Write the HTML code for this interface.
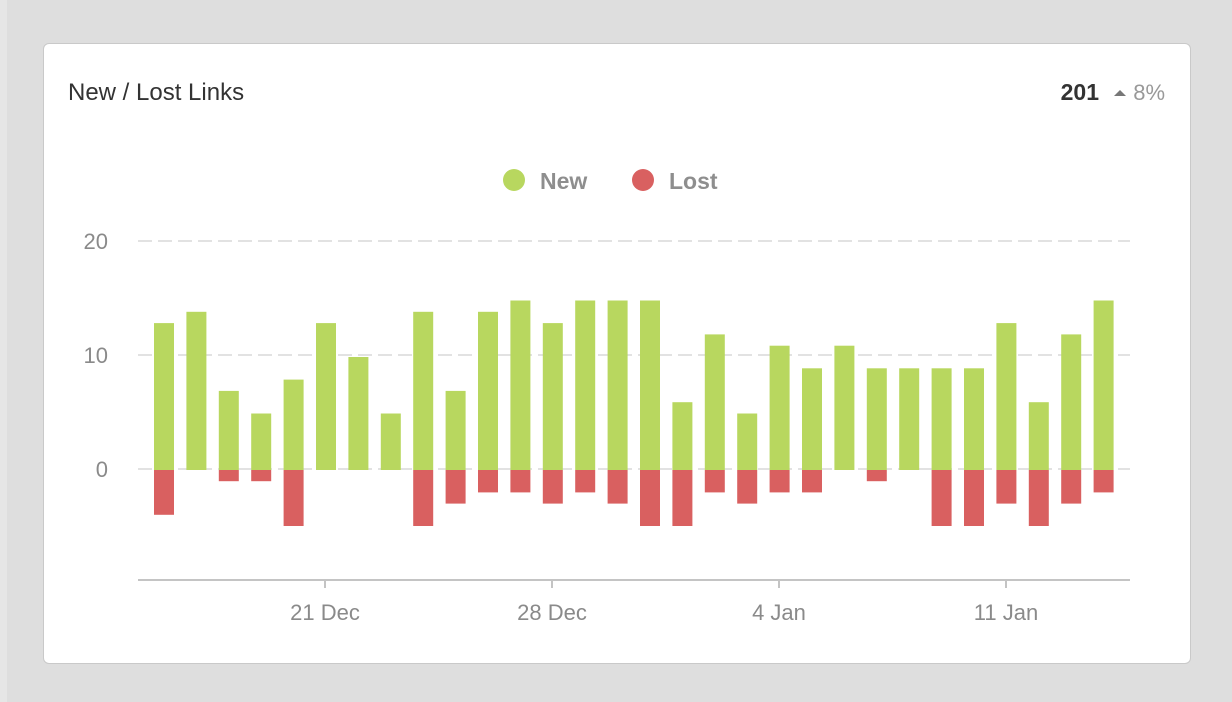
<!DOCTYPE html>
<html><head><meta charset="utf-8"><style>
html,body{margin:0;padding:0;width:1232px;height:702px;background:#dedede;overflow:hidden;font-family:"Liberation Sans",Arial,sans-serif}
.card{position:absolute;left:43px;top:43px;width:1146px;height:619px;background:#fff;border:1px solid #c9c9c9;border-radius:6px}
.strip{position:absolute;left:0;top:0;width:7px;height:702px;background:#e6e6e6}
</style></head><body>
<div class="strip"></div>
<div class="card"></div>
<svg width="1232" height="702" style="position:absolute;left:0;top:0" id="s">
<text x="68" y="100" font-size="24" fill="#333">New / Lost Links</text>
<text x="1099" y="100" font-size="23" font-weight="bold" fill="#333" text-anchor="end">201</text>
<polygon points="1114,96 1120,90 1126,96" fill="#777"/>
<text x="1165" y="100" font-size="22" fill="#999" text-anchor="end">8%</text>
<circle cx="514" cy="180" r="11" fill="#b8d75f"/>
<text x="540" y="189" font-size="23" font-weight="bold" fill="#8e8e8e">New</text>
<circle cx="643" cy="180" r="11" fill="#d96060"/>
<text x="669" y="189" font-size="23" font-weight="bold" fill="#8e8e8e">Lost</text>
<g stroke="#e2e2e2" stroke-width="2" stroke-dasharray="14,6">
<line x1="138" y1="241" x2="1130" y2="241"/>
<line x1="138" y1="355" x2="1130" y2="355"/>
<line x1="138" y1="469" x2="1130" y2="469"/>
</g>
<g font-size="22" fill="#8a8a8a" text-anchor="end">
<text x="108" y="249">20</text><text x="108" y="363">10</text><text x="108" y="477">0</text>
</g>
<g id="bars"></g>
<line x1="138" y1="580" x2="1130" y2="580" stroke="#c4c4c4" stroke-width="2"/>
<g stroke="#c4c4c4" stroke-width="2">
<line x1="325" y1="581" x2="325" y2="588"/><line x1="552" y1="581" x2="552" y2="588"/>
<line x1="779" y1="581" x2="779" y2="588"/><line x1="1006" y1="581" x2="1006" y2="588"/>
</g>
<g font-size="22" fill="#8a8a8a" text-anchor="middle">
<text x="325" y="620">21 Dec</text><text x="552" y="620">28 Dec</text>
<text x="779" y="620">4 Jan</text><text x="1006" y="620">11 Jan</text>
</g>
</svg>
<script>
var n=[13,14,7,5,8,13,10,5,14,7,14,15,13,15,15,15,6,12,5,11,9,11,9,9,9,9,13,6,12,15];
var l=[4,0,1,1,5,0,0,0,5,3,2,2,3,2,3,5,5,2,3,2,2,0,1,0,5,5,3,5,3,2];
var g=document.getElementById('bars'),h='';
for(var i=0;i<30;i++){var x=154+i*32.4;
h+='<rect x="'+x+'" y="'+(470-n[i]*11.3)+'" width="20" height="'+(n[i]*11.3)+'" fill="#b8d75f"/>';
if(l[i])h+='<rect x="'+x+'" y="470" width="20" height="'+(l[i]*11.2)+'" fill="#d96060"/>';}
g.innerHTML=h;
</script>
</body></html>
